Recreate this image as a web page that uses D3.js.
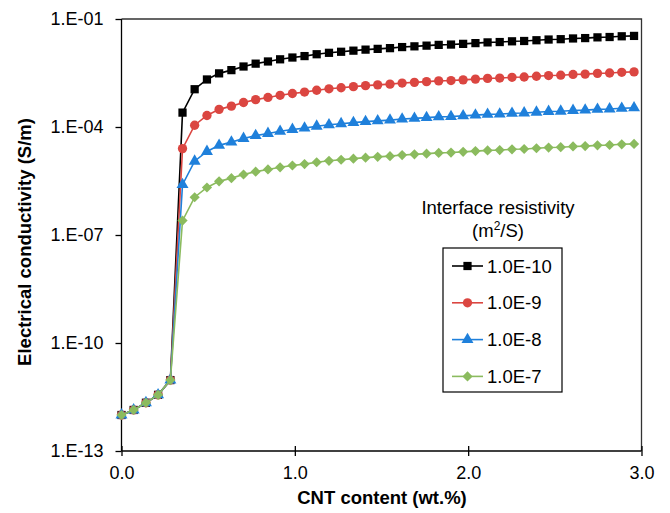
<!DOCTYPE html>
<html>
<head>
<meta charset="utf-8">
<script src="https://cdn.jsdelivr.net/npm/d3@7"></script>
<style>
  html, body { margin: 0; padding: 0; background: #fff; }
  svg { display: block; font-family: "Liberation Sans", Arial, Helvetica, sans-serif; }
</style>
</head>
<body>
<svg id="chart" width="670" height="513"></svg>
<script>
// ---- data ----
const cntContent = [0.000, 0.070, 0.141, 0.211, 0.282, 0.352, 0.422, 0.493, 0.563, 0.634,
  0.704, 0.774, 0.845, 0.915, 0.986, 1.056, 1.126, 1.197, 1.267, 1.338,
  1.408, 1.478, 1.549, 1.619, 1.690, 1.760, 1.830, 1.901, 1.971, 2.042,
  2.112, 2.182, 2.253, 2.323, 2.394, 2.464, 2.534, 2.605, 2.675, 2.746,
  2.816, 2.886, 2.957];

const sigma_1e10 = [1.00e-12, 1.38e-12, 2.19e-12, 3.63e-12, 9.33e-12, 2.51e-4, 1.12e-3, 2.09e-3, 3.09e-3, 3.80e-3,
  4.79e-3, 5.75e-3, 6.61e-3, 7.59e-3, 8.51e-3, 9.33e-3, 1.05e-2, 1.15e-2, 1.23e-2, 1.32e-2,
  1.41e-2, 1.48e-2, 1.55e-2, 1.66e-2, 1.74e-2, 1.82e-2, 1.91e-2, 1.95e-2, 2.04e-2, 2.14e-2,
  2.24e-2, 2.29e-2, 2.40e-2, 2.45e-2, 2.57e-2, 2.69e-2, 2.75e-2, 2.88e-2, 2.95e-2, 3.09e-2,
  3.16e-2, 3.31e-2, 3.39e-2];
const sigma_1e9 = [1.00e-12, 1.38e-12, 2.19e-12, 3.63e-12, 9.33e-12, 2.51e-5, 1.12e-4, 2.09e-4, 3.09e-4, 3.80e-4,
  4.79e-4, 5.75e-4, 6.61e-4, 7.59e-4, 8.51e-4, 9.33e-4, 1.05e-3, 1.15e-3, 1.23e-3, 1.32e-3,
  1.41e-3, 1.48e-3, 1.55e-3, 1.66e-3, 1.74e-3, 1.82e-3, 1.91e-3, 1.95e-3, 2.04e-3, 2.14e-3,
  2.24e-3, 2.29e-3, 2.40e-3, 2.45e-3, 2.57e-3, 2.69e-3, 2.75e-3, 2.88e-3, 2.95e-3, 3.09e-3,
  3.16e-3, 3.31e-3, 3.39e-3];
const sigma_1e8 = [1.00e-12, 1.38e-12, 2.19e-12, 3.63e-12, 9.33e-12, 2.51e-6, 1.12e-5, 2.09e-5, 3.09e-5, 3.80e-5,
  4.79e-5, 5.75e-5, 6.61e-5, 7.59e-5, 8.51e-5, 9.33e-5, 1.05e-4, 1.15e-4, 1.23e-4, 1.32e-4,
  1.41e-4, 1.48e-4, 1.55e-4, 1.66e-4, 1.74e-4, 1.82e-4, 1.91e-4, 1.95e-4, 2.04e-4, 2.14e-4,
  2.24e-4, 2.29e-4, 2.40e-4, 2.45e-4, 2.57e-4, 2.69e-4, 2.75e-4, 2.88e-4, 2.95e-4, 3.09e-4,
  3.16e-4, 3.31e-4, 3.39e-4];
const sigma_1e7 = [1.00e-12, 1.38e-12, 2.19e-12, 3.63e-12, 9.33e-12, 2.51e-7, 1.12e-6, 2.09e-6, 3.09e-6, 3.80e-6,
  4.79e-6, 5.75e-6, 6.61e-6, 7.59e-6, 8.51e-6, 9.33e-6, 1.05e-5, 1.15e-5, 1.23e-5, 1.32e-5,
  1.41e-5, 1.48e-5, 1.55e-5, 1.66e-5, 1.74e-5, 1.82e-5, 1.91e-5, 1.95e-5, 2.04e-5, 2.14e-5,
  2.24e-5, 2.29e-5, 2.40e-5, 2.45e-5, 2.57e-5, 2.69e-5, 2.75e-5, 2.88e-5, 2.95e-5, 3.09e-5,
  3.16e-5, 3.31e-5, 3.39e-5];

const seriesNames = ["1.0E-10", "1.0E-9", "1.0E-8", "1.0E-7"];
const seriesColors = ["#000000", "#DB4641", "#1F80DB", "#8BBB5E"];
const seriesShapes = ["square", "circle", "triangle", "diamond"];

const yTickValues = [1e-13, 1e-10, 1e-7, 1e-4, 1e-1];
const yTickLabels = ["1.E-13", "1.E-10", "1.E-07", "1.E-04", "1.E-01"];
const xTickValues = [0, 1, 2, 3];
const xTickLabels = ["0.0", "1.0", "2.0", "3.0"];

const xTitle = "CNT content (wt.%)";
const yTitle = "Electrical conductivity (S/m)";
const legendTitle1 = "Interface resistivity";

// ---- chart ----
const svg = d3.select("#chart");
const L = 121.5, R = 641.5, T = 19, B = 451;

const x = d3.scaleLinear().domain([0, 3]).range([L, R]);
const y = d3.scaleLog().domain([1e-13, 1e-1]).range([B, T]);

// frame (top & right)
svg.append("path")
  .attr("d", `M${L},${T}H${R}V${B}`)
  .attr("fill", "none").attr("stroke", "#333").attr("stroke-width", 1.3);

// y axis
const yAxis = d3.axisLeft(y).tickValues(yTickValues)
  .tickFormat((d, i) => yTickLabels[i]).tickSize(6).tickPadding(12);
const gy = svg.append("g").attr("transform", `translate(${L},0)`).call(yAxis);
gy.select(".domain").attr("stroke", "#000").attr("stroke-width", 1.3).attr("d", `M0,${T}V${B}`);
gy.selectAll(".tick line").attr("stroke", "#000").attr("stroke-width", 1.3);
gy.selectAll(".tick text").attr("font-size", 18).attr("fill", "#000")
  .attr("font-family", "'Liberation Sans', Arial, sans-serif");

// x axis
const xAxis = d3.axisBottom(x).tickValues(xTickValues)
  .tickFormat((d, i) => xTickLabels[i]).tickSize(5).tickPadding(10);
const gx = svg.append("g").attr("transform", `translate(0,${B})`).call(xAxis);
gx.select(".domain").attr("stroke", "#000").attr("stroke-width", 1.3).attr("d", `M${L},0H${R}`);
gx.selectAll(".tick line").attr("stroke", "#000").attr("stroke-width", 1.3).attr("y1", -5).attr("y2", 5);
gx.selectAll(".tick text").attr("font-size", 18).attr("fill", "#000")
  .attr("font-family", "'Liberation Sans', Arial, sans-serif");

// titles
svg.append("text").attr("x", 382).attr("y", 504).attr("text-anchor", "middle")
  .attr("font-size", 18.5).attr("font-weight", "bold").text(xTitle);
svg.append("text").attr("transform", "translate(31,242) rotate(-90)").attr("text-anchor", "middle")
  .attr("font-size", 18.5).attr("font-weight", "bold").text(yTitle);

// symbols
function symbolPath(shape) {
  if (shape === "square") return d3.symbol().type(d3.symbolSquare).size(68)();
  if (shape === "circle") return d3.symbol().type(d3.symbolCircle).size(68)();
  if (shape === "triangle") return d3.symbol().type(d3.symbolTriangle).size(62)();
  return d3.symbol().type(d3.symbolSquare).size(52)();
}
function symbolRotate(shape) { return shape === "diamond" ? " rotate(45)" : ""; }

const allSeries = [sigma_1e10, sigma_1e9, sigma_1e8, sigma_1e7];
const line = d3.line().x(d => x(d[0])).y(d => y(d[1]));

allSeries.forEach((vals, s) => {
  const pts = cntContent.map((c, i) => [c, vals[i]]);
  const g = svg.append("g");
  g.append("path").datum(pts).attr("d", line)
    .attr("fill", "none").attr("stroke", seriesColors[s]).attr("stroke-width", 1.6);
  g.selectAll("path.m").data(pts).enter().append("path").attr("class", "m")
    .attr("d", symbolPath(seriesShapes[s]))
    .attr("transform", d => `translate(${x(d[0])},${y(d[1])})${symbolRotate(seriesShapes[s])}`)
    .attr("fill", seriesColors[s]);
});

// legend
svg.append("text").attr("x", 498).attr("y", 214).attr("text-anchor", "middle")
  .attr("font-size", 18.5).text(legendTitle1);
const lt2 = svg.append("text").attr("x", 498).attr("y", 237).attr("text-anchor", "middle")
  .attr("font-size", 18.5);
lt2.append("tspan").text("(m");
lt2.append("tspan").attr("dy", -7).attr("font-size", 12).text("2");
lt2.append("tspan").attr("dy", 7).text("/S)");

svg.append("rect").attr("x", 443).attr("y", 248).attr("width", 119).attr("height", 144)
  .attr("fill", "#fff").attr("stroke", "#000").attr("stroke-width", 1.2);

seriesNames.forEach((name, s) => {
  const cy = 266 + s * 36.8;
  svg.append("line").attr("x1", 452).attr("x2", 483).attr("y1", cy).attr("y2", cy)
    .attr("stroke", seriesColors[s]).attr("stroke-width", 1.6);
  svg.append("path").attr("d", symbolPath(seriesShapes[s]))
    .attr("transform", `translate(467.5,${cy})${symbolRotate(seriesShapes[s])}`)
    .attr("fill", seriesColors[s]);
  svg.append("text").attr("x", 487).attr("y", cy + 6.5).attr("font-size", 18.5).text(name);
});
</script>
</body>
</html>
